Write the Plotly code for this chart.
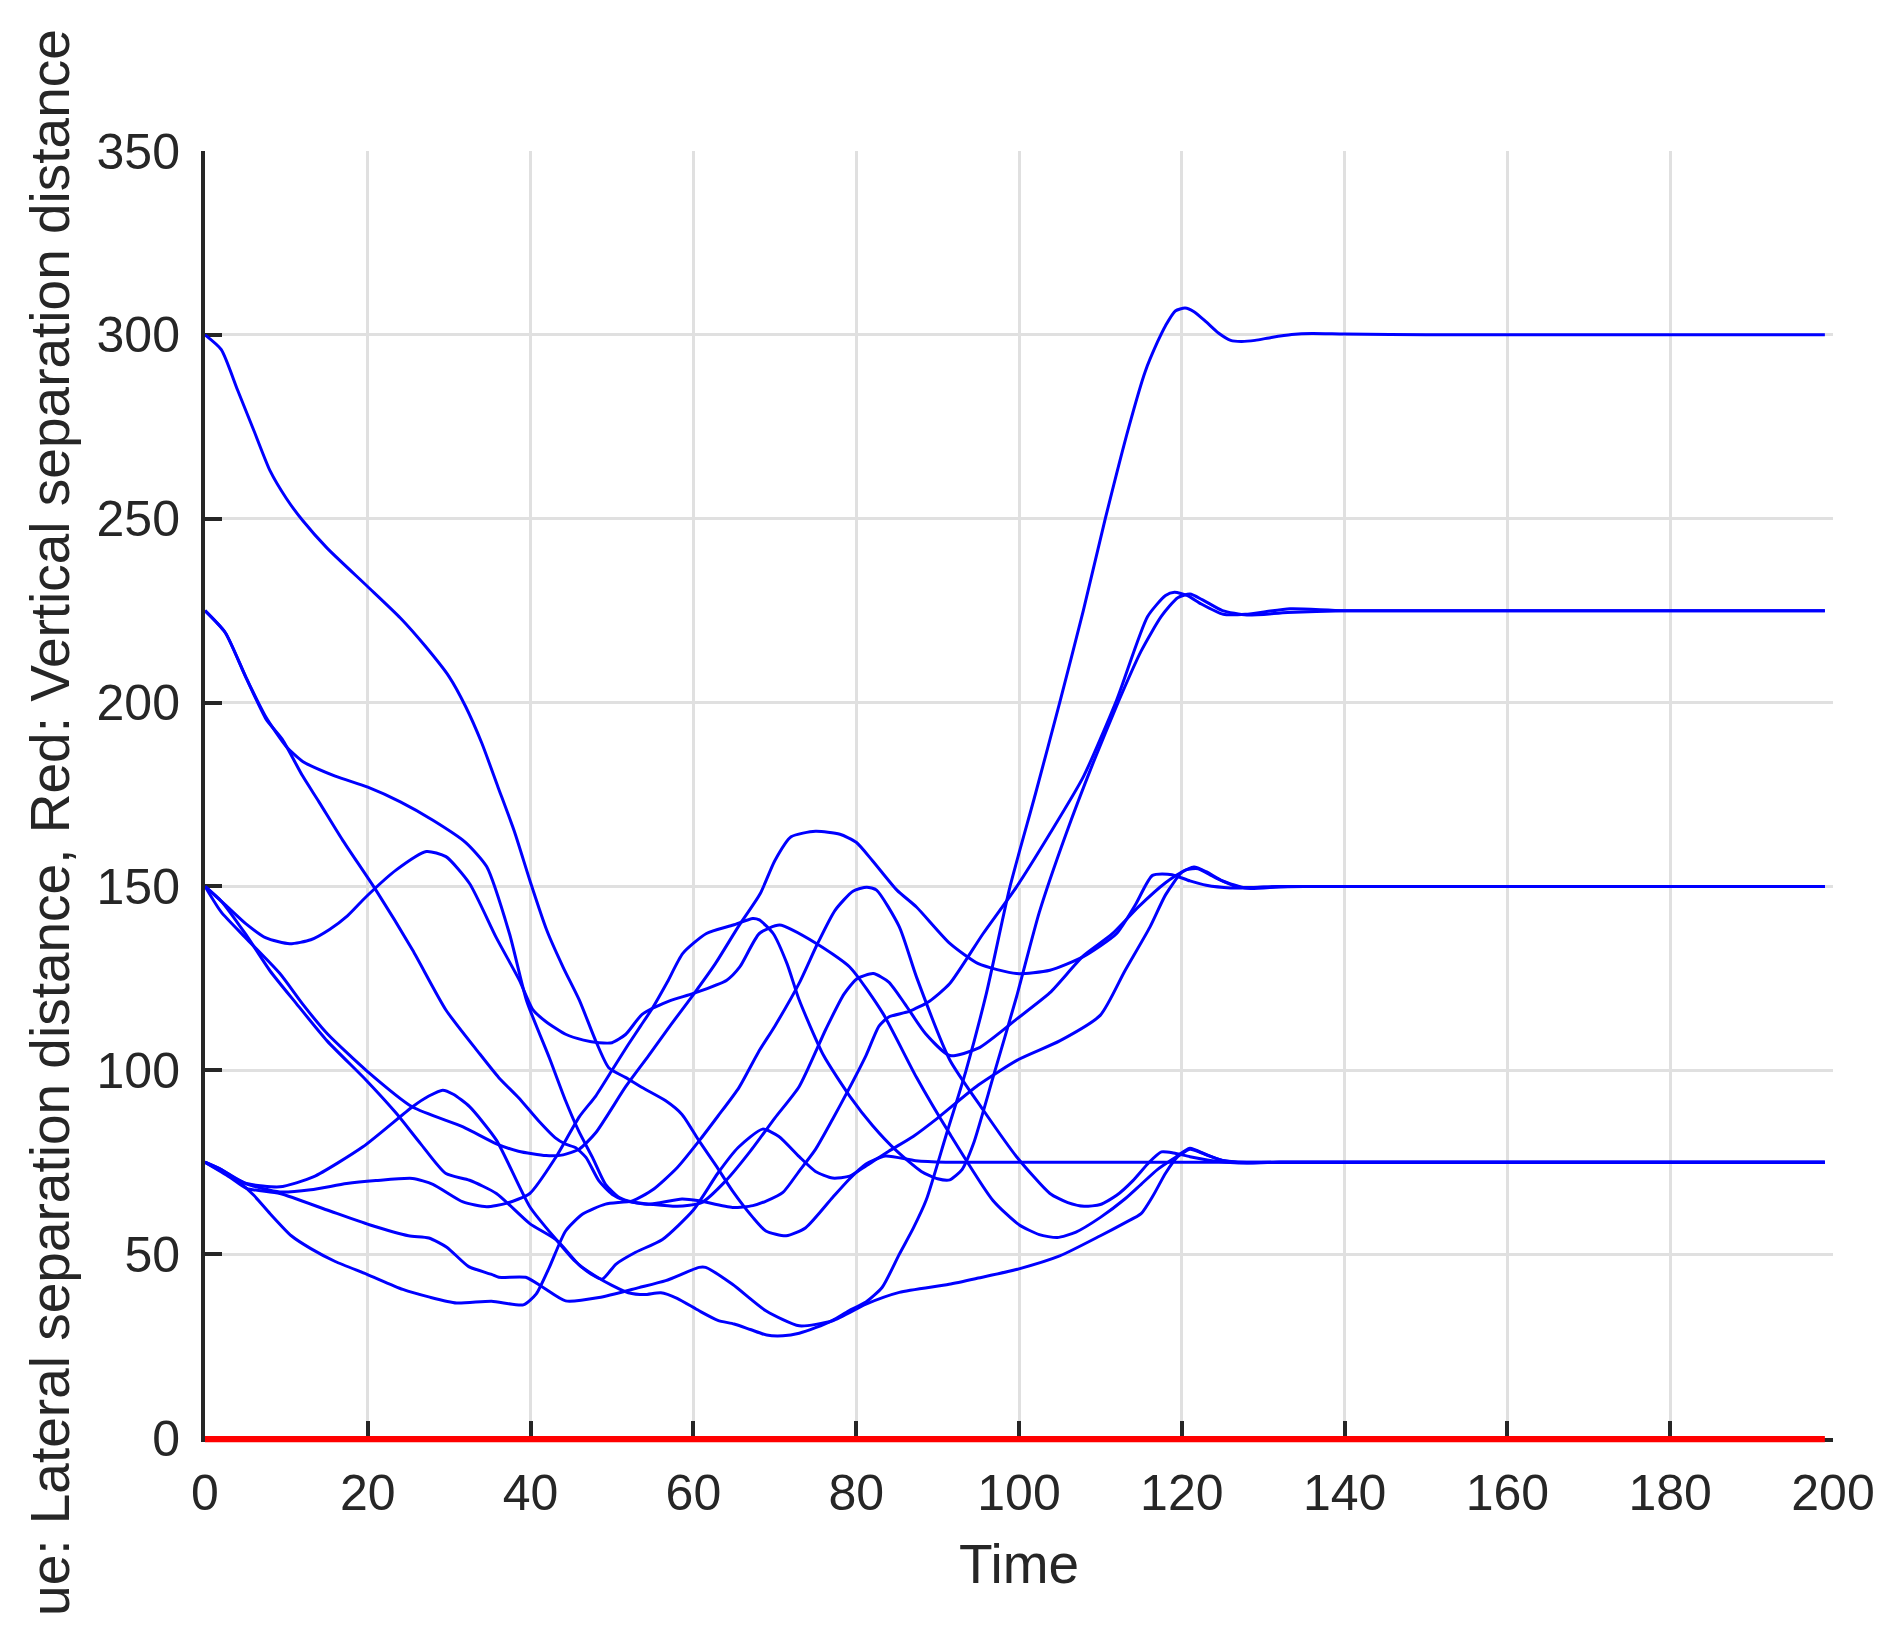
import plotly.graph_objects as go

# ---- data ----
c1_t = [0,2,4,6,8,10,12,15,20,24,27,30,32,34,36,38,40,42,44,46,48,49.6,51.7,53.7,56.6,58.6,60.7,62.8,64.8,67.3,68.9,71.4,73.8,77.1,79.2,81.2,83.6,87.3,91,100,199]
c1_y = [300,296,285,274,263,255.5,249.5,242,231.5,223,215.5,207,199,189,177,165,151,138,128,119,108,100.7,98,95.3,91.7,88,80.8,74,67.2,60,56.3,55,57.2,65.4,70.5,74.5,76.7,75.4,75,75,75]

c2_t = [0,2.5,5,7.5,9.5,12,14,16.9,21,25.5,29.6,33.7,36.1,38.5,41,43,44.3,45.5,46.8,48.4,50,51.7,54.5,58.6,60.7,64.8,67.3,69,71,73,75,77.1,79.1,81.2,82.8,84,86.5,89,91.5,95.6,99.7,103.8,107.9,112,115.8,118,119.1,120.7,122.4,125.1,127.8,133.3,140,199]
c2_y = [225,219,207,195.5,190,180,173,162.6,149,132.7,116.4,104.6,98,92.6,86.2,81.7,79.9,79,76.3,69.9,66.3,64.5,63.6,65,64.5,62.7,63.2,64.5,66.8,72.6,78.5,86.7,94.9,104,112,114.5,116,118.8,123.6,137.2,149.9,164.4,179.8,200.7,223.4,229.1,230,229.1,226.8,224,224,225.5,225,225]

c3_t = [0,2.5,5,7.5,10,12,16,20,24,28,32,34.6,37.4,39.5,42.3,44.3,45.9,47.6,49.2,50.9,52.5,55,58,61,64,67,70,73,76.3,78.5,80.1,82.1,84,86,88.5,91.5,95,99.7,103.8,107.9,111.4,114.7,118,120.5,122,124,127,132,199]
c3_y = [225,219,207,196,188,184,180,177,173,168,162,155.4,137.2,119,103.4,91.7,83.5,76.3,69,65.4,64.2,63.5,63,64,70,78,87,95.6,111.3,120.7,124.9,126.3,124,118,110,104,106,113.9,121.1,131.1,137,144.5,151,154.5,154.8,152.5,149.8,150,150]

c4_t = [0,2.5,5,7.5,10.4,13,15.3,17.5,19.8,23.5,27.2,29.6,32.5,35.8,38.6,40.3,41.9,44.3,46.5,48.4,50,51.7,53.7,57,60,64.1,65.7,68.1,70.6,75.1,79.2,83.3,87.4,91.5,96.8,100,102.5,104.7,107,110,113,115,117,119,121,123,125,128,132,140,199]
c4_y = [150,145,139.9,136,134.4,135.5,138.3,142,147.2,154.5,159.5,158.1,150.8,136,124.6,116.4,113.2,109.8,108.2,107.5,107.5,109.8,115.2,118.8,120.9,124.5,128.1,137.2,139.5,134.5,128.1,115.4,98.1,82.7,64.6,58,55.3,54.5,56,60,65,69,73,76,78.8,77,75.5,74.8,75,75,75]

c5_t = [0,2,5,9.2,12,15,19.8,25.5,31.7,35.8,38.5,41.9,44,46,48,51.7,54.5,57.2,60,62.7,65.5,68.2,70,72,75,78,80,82,85,87.4,91.5,95,99.7,103.8,107.9,112,114.3,116.4,118.8,121,123,126,130,135,199]
c5_y = [150,143,136,126.3,118,110,100,90,84.6,80,78,76.8,77,78.6,83,95.6,104,112.3,120.6,129,139,148,157,163.5,165,164.2,162,157,149,144.4,134.5,129,126.3,127.2,130.9,137.2,145,153,153.2,151.5,150.3,149.6,149.8,150,150]

c6_t = [0,2,5,9.2,13,17.4,21,25.5,28,31.7,34.6,37,39.9,43,46,48,50,52,53.5,55,56.8,58.7,61.6,64.9,67.3,68.1,69.8,71.5,73,76,79.2,82,85,88,90,91.5,93,94.4,96.8,99.7,102.5,105.8,109,112.3,115,117.5,119.5,121,122.5,125,128,133,140,199]
c6_y = [75,73,69.2,66.9,67.5,69.2,70,70.6,69,64.2,62.9,63.8,66.5,76,87.4,93,100,107,112,117,124,131.8,137.2,139.5,141.3,140.9,137.2,129,119.1,104,93,85,78,72.5,70.5,70.2,73,80,98,120,143,164.4,183,200.7,214,223.5,228.5,229.5,228,225,223.8,224.5,225,225]

c7_t = [0,2,5,8,11.2,15,19.8,23.5,26.5,29.6,32.5,35.8,39.9,43.2,46,48,50,52,54,56,58,60.7,63,65,67,69,71,73,75,77.1,79.1,81.2,83.2,85.3,87,88.6,91,93.5,96,98.9,102,105,107.9,110.6,113.5,115.5,117,118,119.2,120.4,121.5,123,124.5,126,127.3,129,131,133.5,136,140,150,199]
c7_y = [150,146,137,127,118.2,108,97.3,88.3,80,71.9,70.1,66.5,58.3,53.8,47,44,41.5,39.5,39,39.5,38,34.6,32,31,29.5,28,27.8,28.5,30,32,34.6,37,41,50,57,64.7,82,100,121,150,175,200,225,250,275,290,298,302.5,306.5,307.3,306.3,303.5,300.5,298.5,298.2,298.5,299.3,300.1,300.4,300.2,300,300]

c8_t = [0,2.5,5.1,9.2,13.3,19.4,25.5,27.5,29.2,30.5,32.5,35.8,39.9,43.2,45.5,47.5,48.8,50.5,52.9,56.2,60,63,65.5,68.5,70.5,73,75,77.1,79.2,81.2,84,87,90,95,100,105,110,113,116.1,118,120,121.5,123,125,128,133,199]
c8_y = [75,72,69.2,68.3,71,79.2,90.1,93,94.6,93.5,90.1,81,62.9,53.8,48,44.5,43.2,47.3,50.5,54,62,72,79,84,82,76.5,72.5,70.7,71.2,74,78,82,87,96,103,108,115,127,139,147.7,153.8,155.3,154,151.5,149.5,150,150]

c9_t = [0,3,5.1,9.2,15,20.2,25,27.5,29.7,32.4,35.2,36.1,39.4,41.5,44.3,48.4,53.3,56.6,60.7,61.5,64.8,68.9,73,77.1,81.2,85.3,91.4,95,100,105,110,113,115,116.5,118,119.5,121,122.5,125,128,135,199]
c9_y = [75,71,67.9,66.5,62,58,55,54.4,51.9,46.6,44.5,43.7,43.7,41,37.3,38.2,40.9,42.8,46.4,46.4,41.8,34.6,30.5,31.9,36.4,39.6,41.8,43.5,46,49.5,55,58.5,61,66,72,76.5,78.5,77.5,75.5,75,75,75]

c10_t = [0,2,4,6,8,10.6,13,16,19.9,24.3,27.6,30.9,35.2,39.1,40.7,42.3,44.3,46.4,49.2,52.5,55,58,60.7,63,65.6,68,70,73,75.2,77.4,79.6,81.3,82.5,85.3,87.4,91.5,95.6,99.7,103.8,106,108,110,112,114,116,117.5,119,121,124,127,132,199]
c10_y = [75,73,70,66,61,55,51.5,48,44.5,40.4,38.3,36.7,37.2,36.2,39.2,46.4,56.3,60.9,63.6,64.5,67.5,73.5,80.8,87.5,95.3,105,112,123.7,134.2,143.5,148.7,149.8,149,139,125.4,102.8,89.2,76.5,66.5,64,63,63.5,66,70,75,77.8,77.5,76.5,75.3,74.8,75,75]

lateral_t = [c1_t, c2_t, c3_t, c4_t, c5_t, c6_t, c7_t, c8_t, c9_t, c10_t]
lateral_y = [c1_y, c2_y, c3_y, c4_y, c5_y, c6_y, c7_y, c8_y, c9_y, c10_y]

vertical_t = [0, 199]
vertical_y = [0, 0]

x_ticks = [0, 20, 40, 60, 80, 100, 120, 140, 160, 180, 200]
y_ticks = [0, 50, 100, 150, 200, 250, 300, 350]

# y label as it is visible in the reference (its first letters fall outside the figure there)
y_label = "ue: Lateral separation distance, Red: Vertical separation distance"
x_label = "Time"

AXC = "#262626"
FONT = "Liberation Sans, Arial, Helvetica, sans-serif"
AXW = 4

fig = go.Figure()
for tt, yy in zip(lateral_t, lateral_y):
    fig.add_trace(go.Scatter(x=tt, y=yy, mode="lines",
                             line=dict(color="#0000ff", width=3, shape="spline", smoothing=0.6),
                             showlegend=False, hoverinfo="skip"))
fig.add_trace(go.Scatter(x=vertical_t, y=vertical_y, mode="lines",
                         line=dict(color="#ff0000", width=4), showlegend=False, hoverinfo="skip"))

# red vertical-separation line lies on the x axis; draw it centred on the axis line, unclipped
fig.add_shape(type="line", xref="x", yref="y domain",
              ysizemode="pixel", yanchor=vertical_y[0],
              x0=vertical_t[0], x1=vertical_t[-1], y0=-AXW / 2, y1=-AXW / 2,
              line=dict(color="#ff0000", width=4.5), layer="above")

fig.add_annotation(text=y_label, xref="paper", yref="paper", x=-0.0952, y=0.4779,
                   textangle=-90, showarrow=False, xanchor="center", yanchor="middle",
                   font=dict(size=55, color=AXC, family=FONT))

fig.update_layout(
    width=1887, height=1640,
    margin=dict(l=197, r=62, t=143, b=210),
    paper_bgcolor="white", plot_bgcolor="white",
    font=dict(family=FONT, size=50, color=AXC),
    xaxis=dict(range=[0, 200], tickvals=x_ticks, ticks="inside", ticklen=17, tickwidth=3.5,
               tickcolor=AXC, showline=True, linewidth=AXW, linecolor=AXC,
               showgrid=True, gridcolor="#e0e0e0", gridwidth=3, zeroline=False,
               layer="below traces", ticklabelstandoff=8,
               title=dict(text=x_label, font=dict(size=55, color=AXC), standoff=25)),
    yaxis=dict(range=[0, 350], tickvals=y_ticks, ticks="inside", ticklen=17, tickwidth=3.5,
               tickcolor=AXC, showline=True, linewidth=AXW, linecolor=AXC,
               showgrid=True, gridcolor="#e0e0e0", gridwidth=3, zeroline=False,
               layer="below traces", ticklabelstandoff=11),
)

fig.write_html("out.html")
